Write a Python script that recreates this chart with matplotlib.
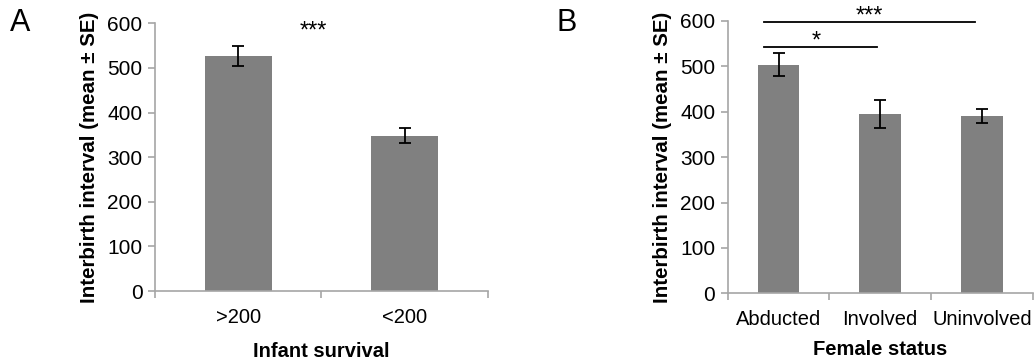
import matplotlib.pyplot as plt
import numpy as np

plt.rcParams['font.family'] = ['Liberation Sans', 'DejaVu Sans']

# Panel A data
survival_labels = ['>200', '<200']
survival_means = [527, 348]
survival_se = [23, 17]

# Panel B data
status_labels = ['Abducted', 'Involved', 'Uninvolved']
status_means = [504, 396, 391]
status_se = [26, 31, 16]

bar_color = '#808080'
spine_color = '#a6a6a6'

fig = plt.figure(figsize=(10.36, 3.62), dpi=100)
axA = fig.add_axes([0.1496, 0.196, 0.3214, 0.7398])
axB = fig.add_axes([0.7024, 0.1898, 0.2944, 0.7522])


def style_axis(ax, labels, means, se, width, xlabel, xpad):
    n = len(labels)
    x = np.arange(n)
    ax.bar(x, means, width=width, color=bar_color, zorder=2)
    ax.errorbar(x, means, yerr=se, fmt='none', ecolor='black',
                elinewidth=1.3, capsize=4.5, capthick=1.3, zorder=3)
    ax.set_xlim(-0.5, n - 0.5)
    ax.set_ylim(0, 600)
    ax.set_yticks(np.arange(0, 601, 100))
    ax.set_xticks(x)
    ax.set_xticklabels(labels, fontsize=14.5)
    ax.set_xticks(np.arange(n + 1) - 0.5, minor=True)
    ax.tick_params(axis='x', which='major', length=0, pad=12)
    ax.tick_params(axis='x', which='minor', length=5, width=1.2,
                   color=spine_color, direction='out')
    ax.tick_params(axis='y', length=5, width=1.2, color=spine_color,
                   labelsize=15, pad=4)
    for s in ['top', 'right']:
        ax.spines[s].set_visible(False)
    for s in ['left', 'bottom']:
        ax.spines[s].set_color(spine_color)
        ax.spines[s].set_linewidth(1.2)
    ax.set_ylabel('Interbirth interval (mean ± SE)', fontsize=14.8,
                  fontweight='bold', labelpad=6)
    ax.set_xlabel(xlabel, fontsize=14.5, fontweight='bold', labelpad=xpad)


style_axis(axA, survival_labels, survival_means, survival_se, 0.40,
           'Infant survival', 11)
style_axis(axB, status_labels, status_means, status_se, 0.41,
           'Female status', 8)

# significance annotations
axA.text(0.45, 582, '***', ha='center', va='center', fontsize=17)

axB.plot([-0.14, 1.93], [598, 598], color='black', lw=1.3, clip_on=False)
axB.plot([-0.14, 0.97], [543, 543], color='black', lw=1.3, clip_on=False)
axB.text(0.89, 610, '***', ha='center', va='center', fontsize=17,
         clip_on=False)
axB.text(0.37, 555, '*', ha='center', va='center', fontsize=17,
         clip_on=False)

# panel letters
fig.text(20 / 1036, 1 - 23 / 362, 'A', ha='center', va='center', fontsize=22)
fig.text(567 / 1036, 1 - 23 / 362, 'B', ha='center', va='center', fontsize=22)

fig.savefig('out.png', dpi=100)
